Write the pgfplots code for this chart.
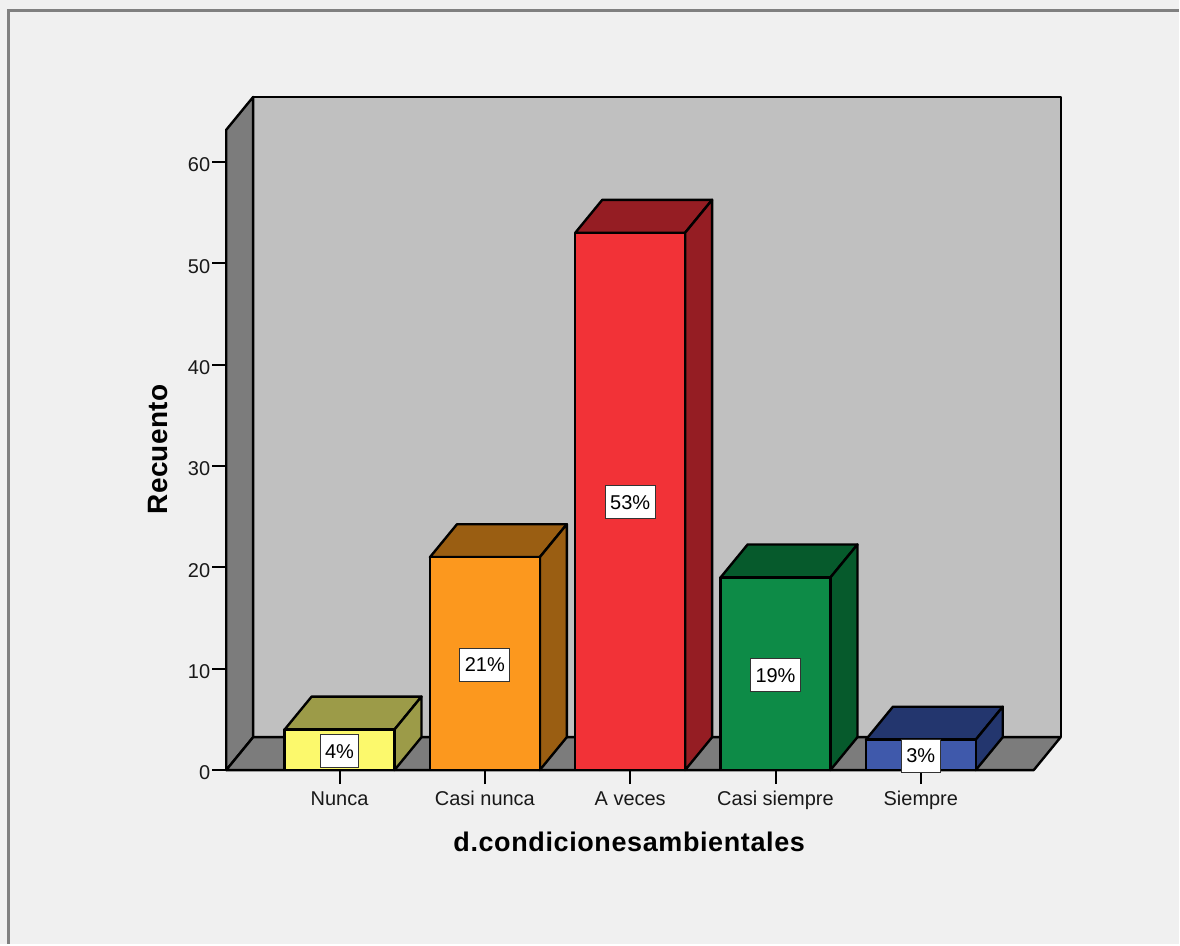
\documentclass[border=0pt]{standalone}
\usepackage{fontspec}
\setmainfont{Liberation Sans}
\usepackage{pgfplots}
\pgfplotsset{compat=1.18}
\definecolor{fondo}{HTML}{F0F0F0}
\definecolor{marco}{HTML}{808080}
\definecolor{muro}{HTML}{C0C0C0}
\definecolor{piso}{HTML}{7C7C7C}
\definecolor{amaA}{HTML}{FCF96C}\definecolor{amaB}{HTML}{9C9B48}
\definecolor{narA}{HTML}{FC981E}\definecolor{narB}{HTML}{9A5E12}
\definecolor{rojA}{HTML}{F23237}\definecolor{rojB}{HTML}{951D23}
\definecolor{verA}{HTML}{0D8B47}\definecolor{verB}{HTML}{065A2C}
\definecolor{azuA}{HTML}{3F59AB}\definecolor{azuB}{HTML}{23366E}
\tikzset{caja/.style={draw=black, line width=1.2pt, line join=round}}
\begin{document}
\begin{tikzpicture}
\begin{axis}[
    scale only axis, width=404.25pt, height=320.5pt,
    xmin=-0.78, xmax=4.777, ymin=0, ymax=63.15,
    clip=false, axis on top,
    axis x line*=bottom, axis y line*=left,
    axis line style={black, line width=1.2pt},
    tick align=outside, major tick length=7pt,
    tick style={black, line width=1pt},
    xtick={0,1,2,3,4},
    xticklabels={Nunca,Casi nunca,A veces,Casi siempre,Siempre},
    ytick={0,10,20,30,40,50,60},
    /pgf/number format/assume math mode=true,
    tick label style={font=\fontsize{10}{12}\selectfont, text=black!90},
    xticklabel style={text height=7.5pt, text depth=2.2pt, yshift=0.5pt},
    yticklabel style={xshift=2.5pt, yshift=-1.5pt},
    xlabel={d.condicionesambientales},
    ylabel={Recuento},
    xlabel style={font=\fontsize{13.5}{16}\selectfont\bfseries\addfontfeature{LetterSpace=2.3}, at={(axis description cs:0.499,-0.1123)}, anchor=center},
    ylabel style={font=\fontsize{14}{16}\selectfont\bfseries\addfontfeature{LetterSpace=1}, at={(axis description cs:-0.0847,0.5008)}, anchor=center},
    every node near coord/.append style={anchor=center, fill=white, draw=black!80, line width=0.5pt,
        font=\fontsize{10}{12}\selectfont, inner xsep=2.5pt, inner ysep=0pt, minimum height=16.5pt},
]
% fondo y marco
\fill[fondo] (axis cs:-2.3368,-17.143) rectangle (axis cs:5.7732,75.96);
\draw[marco, line width=1.5pt] (axis cs:-2.2749,-17.143) -- (axis cs:-2.2749,74.88) -- (axis cs:5.7732,74.88);

% paredes y piso
\addplot[fill=muro, caja] coordinates {(-0.5944,3.25)(4.9626,3.25)(4.9626,66.4)(-0.5944,66.4)} -- cycle;
\addplot[fill=piso, caja] coordinates {(-0.78,0)(-0.5944,3.25)(-0.5944,66.4)(-0.78,63.15)} -- cycle;
\addplot[fill=piso, caja] coordinates {(-0.78,0)(4.777,0)(4.9626,3.25)(-0.5944,3.25)} -- cycle;

% Nunca
\addplot[fill=amaB, caja] coordinates {(-0.378,4)(0.378,4)(0.564,7.25)(-0.192,7.25)} -- cycle;
\addplot[fill=amaB, caja] coordinates {(0.378,0)(0.564,3.25)(0.564,7.25)(0.378,4)} -- cycle;
\addplot[ybar, bar shift=0pt, bar width=55pt, fill=amaA, caja] coordinates {(0,4)};
% Casi nunca
\addplot[fill=narB, caja] coordinates {(0.622,21)(1.378,21)(1.564,24.25)(0.808,24.25)} -- cycle;
\addplot[fill=narB, caja] coordinates {(1.378,0)(1.564,3.25)(1.564,24.25)(1.378,21)} -- cycle;
\addplot[ybar, bar shift=0pt, bar width=55pt, fill=narA, caja] coordinates {(1,21)};
% A veces
\addplot[fill=rojB, caja] coordinates {(1.622,53)(2.378,53)(2.564,56.25)(1.808,56.25)} -- cycle;
\addplot[fill=rojB, caja] coordinates {(2.378,0)(2.564,3.25)(2.564,56.25)(2.378,53)} -- cycle;
\addplot[ybar, bar shift=0pt, bar width=55pt, fill=rojA, caja] coordinates {(2,53)};
% Casi siempre
\addplot[fill=verB, caja] coordinates {(2.622,19)(3.378,19)(3.564,22.25)(2.808,22.25)} -- cycle;
\addplot[fill=verB, caja] coordinates {(3.378,0)(3.564,3.25)(3.564,22.25)(3.378,19)} -- cycle;
\addplot[ybar, bar shift=0pt, bar width=55pt, fill=verA, caja] coordinates {(3,19)};
% Siempre
\addplot[fill=azuB, caja] coordinates {(3.622,3)(4.378,3)(4.564,6.25)(3.808,6.25)} -- cycle;
\addplot[fill=azuB, caja] coordinates {(4.378,0)(4.564,3.25)(4.564,6.25)(4.378,3)} -- cycle;
\addplot[ybar, bar shift=0pt, bar width=55pt, fill=azuA, caja] coordinates {(4,3)};

% etiquetas
\addplot[only marks, mark=none, point meta=explicit symbolic, nodes near coords={\pgfplotspointmeta\%}]
    coordinates {(0,1.85)[4] (1,10.4)[21] (2,26.4)[53] (3,9.35)[19] (4,1.4)[3]};
\end{axis}
\end{tikzpicture}
\end{document}
